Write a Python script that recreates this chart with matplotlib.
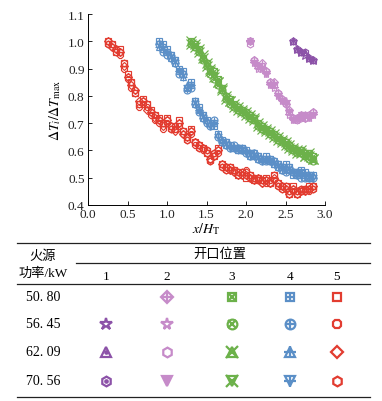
import numpy as np
import matplotlib
matplotlib.use('Agg')
import matplotlib.pyplot as plt

plt.rcParams['font.family'] = ['Liberation Serif', 'Noto Sans CJK SC']
plt.rcParams['mathtext.fontset'] = 'stix'
plt.rcParams['font.size'] = 8

# ---- data ----
powers = ['50. 80', '56. 45', '62. 09', '70. 56']
positions = ['1', '2', '3', '4', '5']

red_x = [0.25, 0.30, 0.35, 0.40, 0.45, 0.50, 0.55, 0.60, 0.65, 0.70, 0.75, 0.80, 0.85,
         0.90, 0.95, 1.00, 1.05, 1.10, 1.15, 1.20, 1.25, 1.30, 1.35, 1.40, 1.45, 1.50,
         1.55, 1.60, 1.65, 1.70, 1.75, 1.80, 1.85, 1.90, 1.95, 2.00, 2.05, 2.10, 2.15,
         2.20, 2.25, 2.30, 2.35, 2.40, 2.45, 2.50, 2.55, 2.60, 2.65, 2.70, 2.75, 2.80, 2.85]
red_y = [
    [1.00, 0.99, 0.96, 0.97, 0.92, 0.88, 0.85, 0.81, 0.77, 0.79, 0.77, 0.75, 0.73, 0.72, 0.70,
     0.72, 0.69, 0.68, 0.71, 0.67, 0.65, 0.68, 0.63, 0.62, 0.61, 0.59, 0.57, 0.58, 0.61, 0.55,
     0.54, 0.54, 0.53, 0.51, 0.52, 0.50, 0.51, 0.49, 0.50, 0.49, 0.50, 0.48, 0.51, 0.48, 0.47,
     0.47, 0.44, 0.47, 0.44, 0.45, 0.46, 0.47, 0.47],
    [0.99, 0.98, 0.97, 0.95, 0.90, 0.86, 0.83, 0.82, 0.76, 0.77, 0.76, 0.73, 0.71, 0.70, 0.68,
     0.70, 0.68, 0.68, 0.69, 0.66, 0.64, 0.66, 0.62, 0.61, 0.60, 0.60, 0.56, 0.59, 0.59, 0.54,
     0.53, 0.53, 0.52, 0.52, 0.51, 0.53, 0.50, 0.50, 0.49, 0.48, 0.48, 0.49, 0.49, 0.47, 0.46,
     0.46, 0.45, 0.45, 0.45, 0.46, 0.45, 0.45, 0.46],
    [1.00, 0.98, 0.97, 0.96, 0.91, 0.87, 0.84, 0.82, 0.78, 0.78, 0.75, 0.74, 0.72, 0.71, 0.69,
     0.71, 0.69, 0.67, 0.70, 0.66, 0.65, 0.67, 0.63, 0.62, 0.61, 0.59, 0.57, 0.58, 0.60, 0.55,
     0.54, 0.53, 0.52, 0.51, 0.51, 0.51, 0.50, 0.49, 0.50, 0.48, 0.49, 0.48, 0.50, 0.48, 0.47,
     0.46, 0.44, 0.46, 0.44, 0.45, 0.45, 0.46, 0.47],
    [0.99, 0.99, 0.96, 0.96, 0.92, 0.87, 0.85, 0.81, 0.77, 0.78, 0.77, 0.74, 0.73, 0.71, 0.70,
     0.71, 0.68, 0.69, 0.70, 0.67, 0.64, 0.67, 0.63, 0.61, 0.61, 0.60, 0.56, 0.59, 0.60, 0.54,
     0.53, 0.54, 0.53, 0.52, 0.52, 0.52, 0.51, 0.50, 0.49, 0.49, 0.49, 0.48, 0.51, 0.47, 0.46,
     0.47, 0.45, 0.46, 0.45, 0.46, 0.46, 0.46, 0.46],
]

blue_x = [0.90, 0.95, 1.00, 1.05, 1.10, 1.15, 1.20, 1.25, 1.30, 1.35, 1.40, 1.45, 1.50, 1.55,
          1.60, 1.65, 1.70, 1.75, 1.80, 1.85, 1.90, 1.95, 2.00, 2.05, 2.10, 2.15, 2.20, 2.25,
          2.30, 2.35, 2.40, 2.45, 2.50, 2.55, 2.60, 2.65, 2.70, 2.75, 2.80, 2.85]
blue_y = [
    [1.00, 0.99, 0.97, 0.95, 0.93, 0.90, 0.89, 0.83, 0.85, 0.78, 0.76, 0.73, 0.71, 0.70, 0.69,
     0.66, 0.64, 0.63, 0.62, 0.61, 0.60, 0.61, 0.60, 0.59, 0.58, 0.58, 0.57, 0.58, 0.57, 0.55,
     0.55, 0.54, 0.55, 0.54, 0.51, 0.52, 0.53, 0.52, 0.51, 0.51],
    [0.99, 0.96, 0.95, 0.94, 0.92, 0.88, 0.88, 0.82, 0.83, 0.77, 0.74, 0.72, 0.70, 0.69, 0.71,
     0.65, 0.63, 0.62, 0.61, 0.62, 0.61, 0.60, 0.59, 0.58, 0.59, 0.57, 0.56, 0.56, 0.56, 0.56,
     0.54, 0.53, 0.52, 0.53, 0.52, 0.51, 0.50, 0.50, 0.50, 0.50],
    [0.98, 0.97, 0.96, 0.94, 0.92, 0.89, 0.87, 0.84, 0.84, 0.77, 0.75, 0.72, 0.71, 0.70, 0.70,
     0.66, 0.64, 0.62, 0.62, 0.61, 0.60, 0.60, 0.60, 0.58, 0.58, 0.57, 0.57, 0.57, 0.56, 0.55,
     0.54, 0.53, 0.54, 0.53, 0.52, 0.51, 0.52, 0.51, 0.50, 0.51],
    [0.99, 0.98, 0.96, 0.95, 0.93, 0.89, 0.88, 0.83, 0.84, 0.78, 0.75, 0.73, 0.70, 0.69, 0.70,
     0.65, 0.63, 0.63, 0.61, 0.61, 0.61, 0.61, 0.59, 0.59, 0.59, 0.58, 0.56, 0.57, 0.57, 0.56,
     0.55, 0.54, 0.53, 0.54, 0.52, 0.52, 0.51, 0.51, 0.51, 0.50],
]

green_x = [1.30, 1.35, 1.40, 1.45, 1.50, 1.55, 1.60, 1.65, 1.70, 1.75, 1.80, 1.85, 1.90, 1.95,
           2.00, 2.05, 2.10, 2.15, 2.20, 2.25, 2.30, 2.35, 2.40, 2.45, 2.50, 2.55, 2.60, 2.65,
           2.70, 2.75, 2.80, 2.85]
green_y = [
    [1.00, 0.99, 0.97, 0.94, 0.92, 0.90, 0.89, 0.86, 0.83, 0.80, 0.79, 0.77, 0.76, 0.75, 0.74,
     0.73, 0.72, 0.70, 0.69, 0.68, 0.67, 0.66, 0.65, 0.64, 0.63, 0.62, 0.61, 0.60, 0.60, 0.59,
     0.59, 0.58],
    [0.99, 0.98, 0.96, 0.93, 0.91, 0.88, 0.86, 0.84, 0.82, 0.79, 0.77, 0.76, 0.75, 0.74, 0.73,
     0.72, 0.71, 0.69, 0.68, 0.67, 0.66, 0.65, 0.64, 0.63, 0.62, 0.61, 0.60, 0.59, 0.59, 0.58,
     0.57, 0.56],
    [1.00, 0.98, 0.97, 0.95, 0.92, 0.89, 0.88, 0.85, 0.82, 0.80, 0.78, 0.77, 0.75, 0.74, 0.74,
     0.72, 0.71, 0.70, 0.68, 0.68, 0.66, 0.66, 0.64, 0.64, 0.62, 0.62, 0.60, 0.60, 0.59, 0.58,
     0.58, 0.57],
    [0.99, 0.99, 0.96, 0.94, 0.91, 0.90, 0.87, 0.85, 0.83, 0.79, 0.78, 0.76, 0.76, 0.75, 0.73,
     0.73, 0.72, 0.69, 0.69, 0.67, 0.67, 0.65, 0.65, 0.63, 0.63, 0.61, 0.61, 0.59, 0.60, 0.58,
     0.59, 0.57],
]

pink_x = [2.05, 2.10, 2.15, 2.20, 2.25, 2.30, 2.35, 2.40, 2.45, 2.50, 2.55, 2.60, 2.65, 2.70,
          2.75, 2.80, 2.85]
pink_y = [
    [1.00, 0.93, 0.91, 0.92, 0.89, 0.85, 0.85, 0.81, 0.79, 0.77, 0.75, 0.72, 0.72, 0.73, 0.72, 0.73, 0.74],
    [1.00, 0.92, 0.90, 0.90, 0.88, 0.84, 0.83, 0.80, 0.78, 0.78, 0.73, 0.71, 0.71, 0.72, 0.73, 0.72, 0.73],
    [0.99, 0.93, 0.91, 0.91, 0.89, 0.85, 0.84, 0.81, 0.79, 0.77, 0.74, 0.72, 0.71, 0.72, 0.72, 0.73, 0.74],
    [1.00, 0.92, 0.91, 0.90, 0.88, 0.84, 0.84, 0.80, 0.78, 0.77, 0.74, 0.71, 0.72, 0.73, 0.73, 0.72, 0.73],
]

purple_x = [2.60, 2.65, 2.70, 2.75, 2.80, 2.85]
purple_y = [
    None,
    [1.00, 0.97, 0.96, 0.95, 0.94, 0.93],
    [1.00, 0.97, 0.96, 0.96, 0.94, 0.93],
    [1.00, 0.97, 0.96, 0.96, 0.94, 0.93],
]

c_red, c_blue, c_green, c_pink, c_purple = '#e23c30', '#5b8fc7', '#6cb14a', '#c68bc9', '#8c52a8'

# marker layers: (marker, size factor, filled)
styles = {
    '1': [None,
          [('*', 1.25, False)],
          [('^', 1.0, False), ('.', 0.5, True)],
          [('h', 1.0, False), ('.', 0.5, True)]],
    '2': [[('D', 0.9, False), ('+', 1.0, False)],
          [('*', 1.2, False)],
          [('h', 1.0, False)],
          [('v', 1.0, True)]],
    '3': [[('s', 0.9, False), ('x', 0.8, False)],
          [('o', 1.0, False), ('x', 0.8, False)],
          [('^', 1.0, False), ('x', 1.3, False)],
          [('v', 1.0, False), ('x', 1.3, False)]],
    '4': [[('s', 0.9, False), ('+', 0.9, False)],
          [('o', 1.0, False), ('+', 1.0, False)],
          [('^', 1.0, False), ('+', 1.2, False)],
          [('v', 1.0, False), ('+', 1.2, False)]],
    '5': [[('s', 0.9, False)],
          [('8', 1.0, False)],
          [('D', 0.85, False)],
          [('h', 1.0, False)]],
}
colors = {'1': c_purple, '2': c_pink, '3': c_green, '4': c_blue, '5': c_red}
series = {'1': (purple_x, purple_y), '2': (pink_x, pink_y), '3': (green_x, green_y),
          '4': (blue_x, blue_y), '5': (red_x, red_y)}


def draw_marks(ax, x, y, color, layers, ms, lw):
    for mk, f, filled in layers:
        ax.plot(x, y, linestyle='none', marker=mk, markersize=ms * f,
                markerfacecolor=color if filled else 'none',
                markeredgecolor=color, markeredgewidth=lw, clip_on=False)


fig = plt.figure(figsize=(3.82, 4.02), dpi=100)

# ---- scatter plot ----
ax = fig.add_axes([88 / 382, 1 - 206 / 402, 237 / 382, 191 / 402])
for pos in ['5', '4', '3', '2', '1']:
    xs, ys = series[pos]
    for k, yv in enumerate(ys):
        if yv is None:
            continue
        draw_marks(ax, xs, yv, colors[pos], styles[pos][k], 5.0, 0.85)

ax.set_xlim(0, 3.0)
ax.set_ylim(0.4, 1.1)
ax.set_xticks([0.0, 0.5, 1.0, 1.5, 2.0, 2.5, 3.0])
ax.set_yticks([0.4, 0.5, 0.6, 0.7, 0.8, 0.9, 1.0, 1.1])
ax.xaxis.set_major_formatter(matplotlib.ticker.FormatStrFormatter('%.1f'))
ax.yaxis.set_major_formatter(matplotlib.ticker.FormatStrFormatter('%.1f'))
ax.tick_params(direction='in', length=3, width=0.7, labelsize=9.5, colors='#222222', pad=2.5)
for s in ['top', 'right']:
    ax.spines[s].set_visible(False)
for s in ['left', 'bottom']:
    ax.spines[s].set_linewidth(0.7)
ax.set_xlabel(r'$x/H_{\mathrm{T}}$', fontsize=10, labelpad=0)
ax.set_ylabel(r'$\Delta T_{i}/\Delta T_{\mathrm{max}}$', fontsize=10, labelpad=3)

# ---- legend table (pixel coordinates, y downward) ----
tb = fig.add_axes([0, 0, 1, 167 / 402])
tb.set_xlim(0, 382)
tb.set_ylim(402, 235)
tb.axis('off')

line_kw = dict(color='#222222', linewidth=0.9)
tb.plot([17, 370], [244, 244], **line_kw)
tb.plot([76, 370], [264, 264], **line_kw)
tb.plot([17, 370], [285, 285], **line_kw)
tb.plot([17, 370], [398, 398], **line_kw)

cjk = ['Liberation Serif', 'Noto Sans CJK SC']
tb.text(43, 257, '火源', ha='center', va='center', fontsize=9.5, family=cjk)
tb.text(43, 274, '功率/kW', ha='center', va='center', fontsize=9.5, family=cjk)
tb.text(220, 255, '开口位置', ha='center', va='center', fontsize=9.5, family=cjk)

col_x = [106, 167, 232, 290, 337]
row_y = [298, 325, 353, 382]
for j, p in enumerate(positions):
    tb.text(col_x[j], 277, p, ha='center', va='center', fontsize=9.5)
for i, pw in enumerate(powers):
    tb.text(43, row_y[i], pw, ha='center', va='center', fontsize=10)
    for j, p in enumerate(positions):
        lay = styles[p][i]
        if lay is None:
            continue
        draw_marks(tb, [col_x[j]], [row_y[i]], colors[p], lay, 7.0, 1.6)

fig.savefig('out.png', dpi=100)
